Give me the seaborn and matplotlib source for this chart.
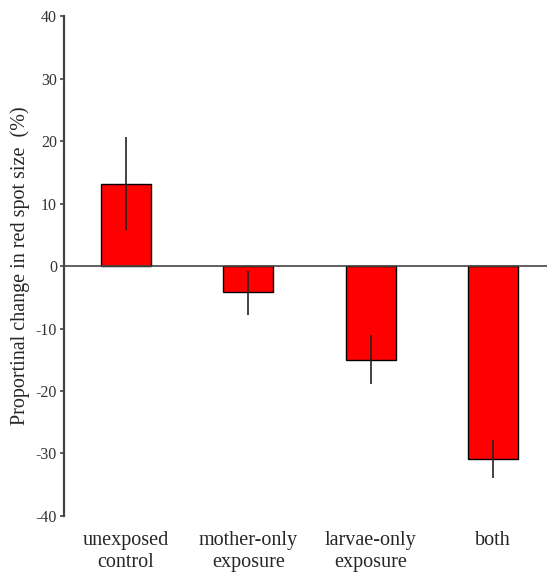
import numpy as np
import pandas as pd
import seaborn as sns
import matplotlib.pyplot as plt

groups = ['unexposed\ncontrol', 'mother-only\nexposure', 'larvae-only\nexposure', 'both']
change = [13.2, -4.2, -15.0, -30.9]
err_low = [5.7, -7.8, -18.8, -33.9]
err_high = [20.6, -0.8, -11.1, -27.8]
yticks = [-40, -30, -20, -10, 0, 10, 20, 30, 40]

sns.set_style('white')
plt.rcParams['font.family'] = ['Liberation Serif', 'DejaVu Serif']

fig = plt.figure(figsize=(5.47, 5.73), dpi=100)
ax = fig.add_axes([0.117, 0.0995, 0.883, 0.8725])

df = pd.DataFrame({'group': groups, 'change': change})
sns.barplot(data=df, x='group', y='change', color='#ff0000', width=0.41,
            saturation=1, edgecolor='black', linewidth=1, errorbar=None, ax=ax)

# error lines, no caps
ax.vlines(range(len(groups)), err_low, err_high, color='#222222', linewidth=1.2, zorder=5)

ax.axhline(0, color='#444444', linewidth=1.2, zorder=4)

ax.set_ylim(-40, 40)
ax.set_xlim(-0.506, 3.44)
ax.set_yticks(yticks)
ax.set_yticklabels([str(t) for t in yticks], fontsize=11.5, color='#333333')
ax.tick_params(axis='y', direction='out', length=3, width=1.2, color='#444444', pad=2, left=True)
ax.tick_params(axis='x', length=0, labelsize=14.5, pad=11)
for lbl in ax.get_xticklabels():
    lbl.set_linespacing(1.2)

ax.set_xlabel('')
ax.set_ylabel('Proportinal change in red spot size  (%)', fontsize=14.5, labelpad=4)

for s in ['top', 'right', 'bottom']:
    ax.spines[s].set_visible(False)
ax.spines['left'].set_color('#444444')
ax.spines['left'].set_linewidth(1.6)

plt.savefig('out.png', dpi=100)
